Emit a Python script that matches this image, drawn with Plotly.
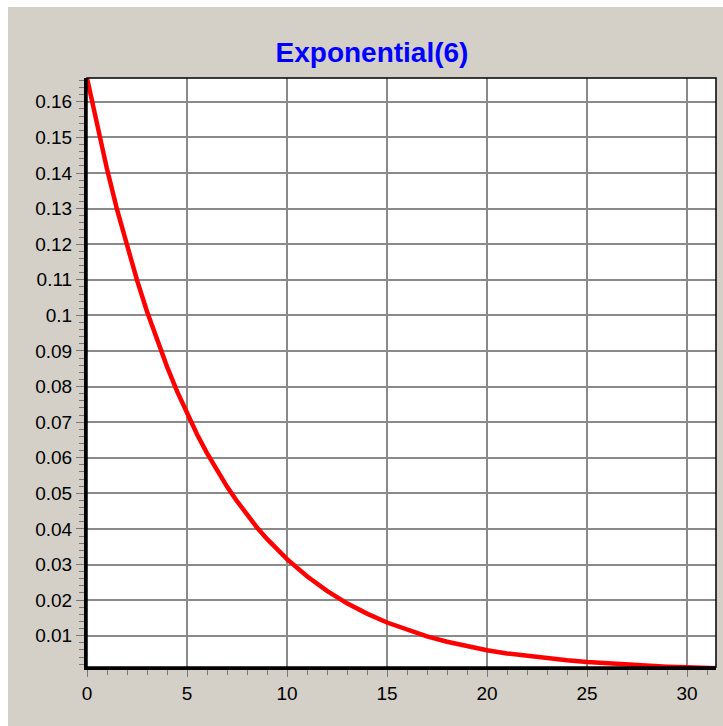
import plotly.graph_objects as go

# Density values
x_vals = [0, 0.5, 1, 1.5, 2, 2.5, 3, 3.5, 4, 4.5, 5, 5.5, 6, 6.5, 7, 7.5, 8, 8.5, 9, 9.5,
          10, 11, 12, 13, 14, 15, 16, 17, 18, 19, 20, 21, 22, 23, 24, 25, 26, 27, 28, 29,
          30, 31, 32]
y_vals = [0.1667, 0.1533, 0.1411, 0.1298, 0.1194, 0.1099, 0.1011, 0.0930, 0.0856, 0.0787,
          0.0724, 0.0666, 0.0613, 0.0564, 0.0519, 0.0478, 0.0439, 0.0404, 0.0372, 0.0342,
          0.0315, 0.0267, 0.0226, 0.0191, 0.0162, 0.0137, 0.0116, 0.0098, 0.0083, 0.0070,
          0.0059, 0.0050, 0.0043, 0.0036, 0.0031, 0.0026, 0.0022, 0.0019, 0.0016, 0.0013,
          0.0011, 0.0010, 0.0008]
title_text = "Exponential(6)"
x_ticks = [0, 5, 10, 15, 20, 25, 30]
y_ticks = [0.01, 0.02, 0.03, 0.04, 0.05, 0.06, 0.07, 0.08, 0.09, 0.1,
           0.11, 0.12, 0.13, 0.14, 0.15, 0.16]

W, H = 723, 726
ML, MR, MT, MB = 87, 7, 78, 59
PW, PH = W - ML - MR, H - MT - MB

fig = go.Figure()
fig.add_trace(go.Scatter(x=x_vals, y=y_vals, mode="lines",
                         line=dict(color="#ff0000", width=4.5), hoverinfo="skip"))

font = "Liberation Sans, Arial, sans-serif"
axis_common = dict(
    showgrid=True, gridcolor="#8a8a8a", gridwidth=2,
    zeroline=False, showline=True, linecolor="black", linewidth=3,
    ticks="outside", tickcolor="#777777", tickwidth=1,
    tickfont=dict(family=font, size=19, color="black"),
)
fig.update_xaxes(range=[0, 31.45], tickvals=x_ticks, ticklen=7,
                 minor=dict(dtick=1, tick0=0, ticks="outside", ticklen=5,
                            tickcolor="#777777", showgrid=False),
                 **axis_common)
fig.update_yaxes(range=[0.0012, 0.1667], tickvals=y_ticks, ticklen=8,
                 minor=dict(dtick=0.002, tick0=0, ticks="outside", ticklen=5,
                            tickcolor="#777777", showgrid=False),
                 **axis_common)

shapes = [
    # white strips at top and left of the image
    dict(type="rect", xref="paper", yref="paper", layer="below",
         x0=-ML / PW - 0.01, x1=(8 - ML) / PW, y0=-MB / PH - 0.01, y1=1 + MT / PH + 0.01,
         fillcolor="white", line=dict(width=0)),
    dict(type="rect", xref="paper", yref="paper", layer="below",
         x0=-ML / PW - 0.01, x1=1 + MR / PW + 0.01, y0=1 + (MT - 7) / PH, y1=1 + MT / PH + 0.01,
         fillcolor="white", line=dict(width=0)),
    # thin frame around plot area
    dict(type="rect", xref="paper", yref="paper", layer="above",
         x0=0, x1=1, y0=0, y1=1, line=dict(color="black", width=1.5)),
]

fig.update_layout(
    width=W, height=H,
    margin=dict(l=ML, r=MR, t=MT, b=MB),
    paper_bgcolor="#d4d0c8", plot_bgcolor="white",
    showlegend=False,
    title=dict(text="<b>" + title_text + "</b>", x=(372 - ML) / PW, xref="paper",
               xanchor="center", y=1 - 52 / H, yanchor="middle",
               font=dict(family=font, size=28, color="#0000ff")),
    shapes=shapes,
)

fig.write_html("out.html")
